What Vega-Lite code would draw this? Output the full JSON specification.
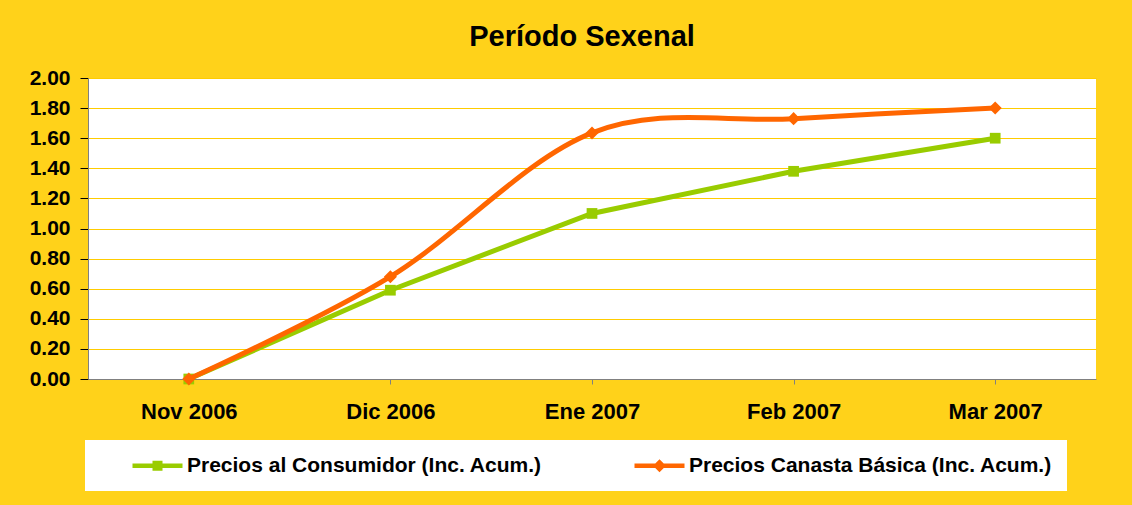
{
  "$schema": "https://vega.github.io/schema/vega-lite/v6.json",
  "autosize": "none",
  "width": 1008,
  "height": 301,
  "padding": {"left": 88, "top": 78, "right": 36, "bottom": 126},
  "background": "#FFD21A",
  "title": {"text": "Período Sexenal", "font": "Liberation Sans", "fontSize": 29, "fontWeight": "bold", "color": "#000000", "offset": 15, "dx": -10},
  "data": {"values": [
    {"mes": "Nov 2006", "serie": "Precios al Consumidor (Inc. Acum.)", "valor": 0.0},
    {"mes": "Dic 2006", "serie": "Precios al Consumidor (Inc. Acum.)", "valor": 0.59},
    {"mes": "Ene 2007", "serie": "Precios al Consumidor (Inc. Acum.)", "valor": 1.10},
    {"mes": "Feb 2007", "serie": "Precios al Consumidor (Inc. Acum.)", "valor": 1.38},
    {"mes": "Mar 2007", "serie": "Precios al Consumidor (Inc. Acum.)", "valor": 1.60},
    {"mes": "Nov 2006", "serie": "Precios Canasta Básica (Inc. Acum.)", "valor": 0.0},
    {"mes": "Dic 2006", "serie": "Precios Canasta Básica (Inc. Acum.)", "valor": 0.68},
    {"mes": "Ene 2007", "serie": "Precios Canasta Básica (Inc. Acum.)", "valor": 1.635},
    {"mes": "Feb 2007", "serie": "Precios Canasta Básica (Inc. Acum.)", "valor": 1.73},
    {"mes": "Mar 2007", "serie": "Precios Canasta Básica (Inc. Acum.)", "valor": 1.80}
  ]},
  "encoding": {
    "x": {"field": "mes", "type": "nominal", "sort": null, "scale": {"paddingInner": 0, "paddingOuter": 0},
      "axis": {"title": null, "labelAngle": 0, "labelFont": "Liberation Sans", "labelFontSize": 22, "labelFontWeight": "bold", "labelColor": "#000000", "labelPadding": 17, "ticks": true, "tickSize": 5, "tickColor": "#808080", "bandPosition": 0, "domainColor": "#808080", "grid": false}},
    "y": {"field": "valor", "type": "quantitative", "scale": {"domain": [0, 2], "nice": false},
      "axis": {"title": null, "values": [0, 0.2, 0.4, 0.6, 0.8, 1.0, 1.2, 1.4, 1.6, 1.8, 2.0], "format": ".2f", "labelFont": "Liberation Sans", "labelFontSize": 21, "labelFontWeight": "bold", "labelColor": "#000000", "labelPadding": 10, "tickSize": 8, "tickColor": "#000000", "domainColor": "#808080", "gridColor": "#FFCC00", "gridWidth": 1, "gridOpacity": 1}}
  },
  "layer": [
    {"transform": [{"filter": "datum.serie === 'Precios al Consumidor (Inc. Acum.)'"}],
     "mark": {"type": "line", "color": "#99CC00", "strokeWidth": 5, "interpolate": "linear"}},
    {"transform": [{"filter": "datum.serie === 'Precios al Consumidor (Inc. Acum.)'"}],
     "mark": {"type": "point", "shape": "square", "filled": true, "color": "#99CC00", "size": 115, "opacity": 1}},
    {"transform": [{"filter": "datum.serie === 'Precios Canasta Básica (Inc. Acum.)'"}],
     "mark": {"type": "line", "color": "#FF6600", "strokeWidth": 5, "interpolate": "cardinal", "tension": 0}},
    {"transform": [{"filter": "datum.serie === 'Precios Canasta Básica (Inc. Acum.)'"}],
     "mark": {"type": "point", "shape": "diamond", "filled": true, "color": "#FF6600", "size": 170, "opacity": 1}},
    {"transform": [{"filter": "false"}],
     "mark": {"type": "point", "filled": true, "opacity": 1},
     "encoding": {
       "color": {"field": "serie", "type": "nominal",
         "scale": {"domain": ["Precios al Consumidor (Inc. Acum.)", "Precios Canasta Básica (Inc. Acum.)"], "range": ["#99CC00", "#FF6600"]},
         "legend": {"title": " ", "titleOrient": "left", "titlePadding": 47, "titleFontSize": 10, "orient": "none", "legendX": -3, "legendY": 362, "direction": "horizontal", "columnPadding": 92, "labelOffset": 19, "padding": 15, "fillColor": "#FFFFFF", "symbolOpacity": 1, "symbolSize": 400, "symbolStrokeWidth": 0, "labelFont": "Liberation Sans", "labelFontSize": 21, "labelFontWeight": "bold", "labelColor": "#000000", "labelLimit": 600}},
       "shape": {"field": "serie", "type": "nominal",
         "scale": {"domain": ["Precios al Consumidor (Inc. Acum.)", "Precios Canasta Básica (Inc. Acum.)"],
           "range": ["M-2.5,-0.22H2.5V0.22H-2.5Z M-0.5,-0.5H0.5V0.5H-0.5Z", "M-2.5,-0.22H2.5V0.22H-2.5Z M0,-0.65L0.65,0L0,0.65L-0.65,0Z"]},
         "legend": {"title": " "}}
     }}
  ],
  "config": {
    "view": {"fill": "#FFFFFF", "stroke": null},
    "font": "Liberation Sans"
  }
}
